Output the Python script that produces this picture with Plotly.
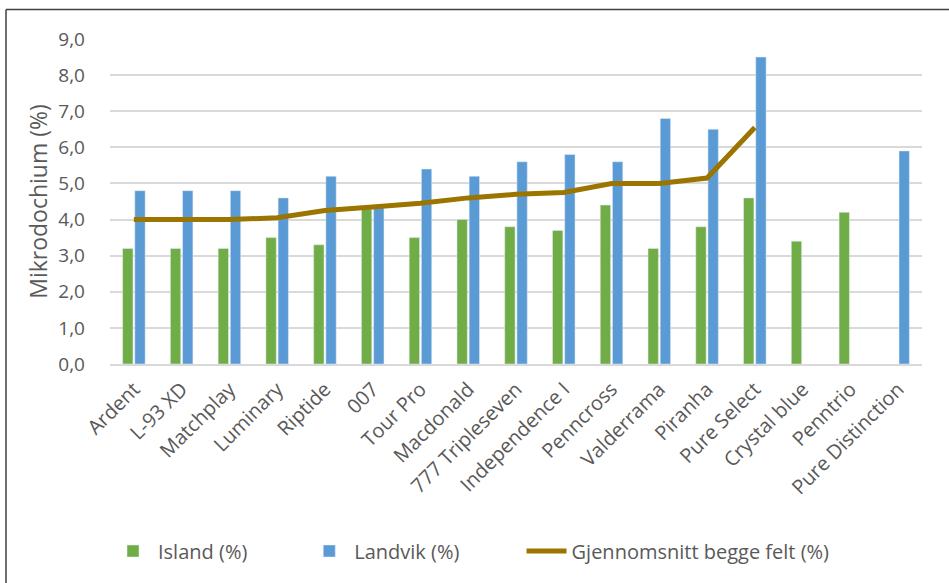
import plotly.graph_objects as go

categories = ["Ardent", "L-93 XD", "Matchplay", "Luminary", "Riptide", "007", "Tour Pro",
              "Macdonald", "777 Tripleseven", "Independence I", "Penncross", "Valderrama",
              "Piranha", "Pure Select", "Crystal blue", "Penntrio", "Pure Distinction"]
island = [3.2, 3.2, 3.2, 3.5, 3.3, 4.3, 3.5, 4.0, 3.8, 3.7, 4.4, 3.2, 3.8, 4.6, 3.4, 4.2, None]
landvik = [4.8, 4.8, 4.8, 4.6, 5.2, 4.4, 5.4, 5.2, 5.6, 5.8, 5.6, 6.8, 6.5, 8.5, None, None, 5.9]
average = [4.0, 4.0, 4.0, 4.05, 4.25, 4.35, 4.45, 4.6, 4.7, 4.75, 5.0, 5.0, 5.15, 6.55, None, None, None]
y_ticks = [0, 1, 2, 3, 4, 5, 6, 7, 8, 9]
series_names = ["Island (%)", "Landvik (%)", "Gjennomsnitt begge felt (%)"]

FONT = "Open Sans"
GRAY = "#595959"
NB = "\u00a0"

fig = go.Figure()
fig.add_trace(go.Bar(x=categories, y=island, name=series_names[0] + NB * 10,
                     marker_color="#70AD47"))
fig.add_trace(go.Bar(x=categories, y=landvik, name=series_names[1] + NB * 11,
                     marker_color="#5B9BD5"))
fig.add_trace(go.Scatter(x=categories, y=average, name=series_names[2],
                         mode="lines", line=dict(color="#9C7400", width=5)))

W, H = 949, 583
L, R, T, B = 110, 27, 39, 219
pw, ph = W - L - R, H - T - B

def px(x):
    return (x - L) / pw

def py(y):
    return (H - B - y) / ph

fig.update_layout(
    width=W, height=H,
    margin=dict(l=L, r=R, t=T, b=B),
    paper_bgcolor="white", plot_bgcolor="white",
    separators=", ",
    barmode="group", bargap=0.49, bargroupgap=0.15,
    font=dict(family=FONT, color=GRAY, size=16),
    showlegend=True,
    legend=dict(orientation="h", x=px(108), xanchor="left", y=py(551), yanchor="middle",
                font=dict(size=20, color=GRAY), itemwidth=40, traceorder="normal"),
    xaxis=dict(tickangle=-45, tickfont=dict(size=20, color=GRAY), showgrid=False,
               showline=True, linecolor="#D9D9D9", linewidth=1.5, ticks="",
               ticklabelstandoff=4),
    yaxis=dict(range=[0, 9], tickvals=y_ticks, tickformat=".1f",
               tickfont=dict(size=19, color=GRAY), showgrid=True, gridcolor="#D9D9D9",
               gridwidth=1.5, zeroline=False, ticklabelstandoff=24,
               title=dict(text="Mikrodochium (%)", font=dict(size=23, color=GRAY), standoff=4)),
    shapes=[
        dict(type="line", xref="paper", yref="paper", x0=px(6), x1=px(W + 5), y0=py(9.5), y1=py(9.5),
             line=dict(color="#404040", width=1.5)),
        dict(type="line", xref="paper", yref="paper", x0=px(6), x1=px(6), y0=py(9.5), y1=py(H + 5),
             line=dict(color="#404040", width=1.5)),
    ],
)

fig.write_html("out.html", config={"displayModeBar": False},
               post_script="document.body.style.margin='0px';")
